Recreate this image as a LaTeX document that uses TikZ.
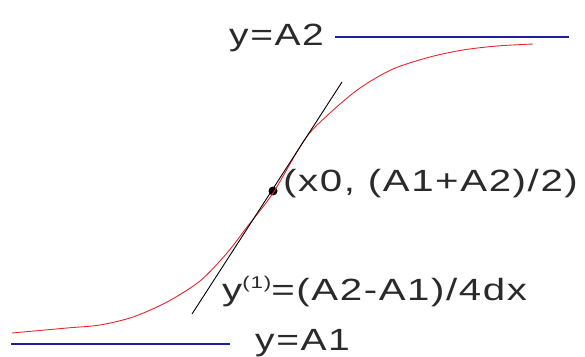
\documentclass[tikz,border=0pt]{standalone}
\usepackage{fontspec}
\newfontfamily\lblfont{Liberation Sans}[LetterSpace=4]
\usepackage{tikz}
\usetikzlibrary{positioning}
\definecolor{levelblue}{HTML}{1F1F9E}
\definecolor{curvered}{HTML}{E8262E}
\definecolor{textgray}{HTML}{2A2A2A}
\newcommand{\widetext}[2][1.27]{\scalebox{#1}[1]{#2}}

\begin{document}
\begin{tikzpicture}[x=1pt, y=1pt,
  lbl/.style={inner sep=0pt, text=textgray, anchor=base west,
              font=\lblfont\fontsize{30.7}{36}\selectfont},
  level/.style={draw=levelblue, line width=1.4pt},
  sig/.style={draw=curvered, line width=0.9pt},
  tangent/.style={draw=black, line width=0.9pt},
  pt/.style={circle, fill=black, inner sep=0pt, minimum size=9pt}
]
\useasboundingbox (0,0) rectangle (585,356);
\node[lbl] (upper) at (229,310) {\widetext{y=A2}};
\node[lbl] (lower) at (255,6) {\widetext{y=A1}};
\node[pt] (mid) at (273,165) {};
\node[lbl] (midlbl) at (283,164) {\widetext[1.31]{(x0, (A1+A2)/2)}};
\node[lbl] (slope) at (222,56)
  {\widetext[1.31]{y\raisebox{12pt}{\fontsize{17}{17}\selectfont(1)}=(A2-A1)/4dx}};
\coordinate (upperL) at (335,319);
\coordinate (upperR) at (569,319);
\coordinate (lowerL) at (11,12);
\coordinate (lowerR) at (230,12);
\coordinate (tanlo) at (192,42);
\coordinate (tanhi) at (342,274);
\draw[level] (upperL) -- (upperR);
\draw[level] (lowerL) -- (lowerR);
\draw[sig] plot[smooth, tension=0.5] coordinates {(12,23) (67,28) (100,31)
  (133,39) (167,54) (200,75) (227,103) (247,129) (273,163) (305,217)
  (330,243) (360,268) (393,287) (430,299) (463,306) (497,310) (533,312)};
\draw[tangent] (tanlo) -- (tanhi);
\end{tikzpicture}
\end{document}
